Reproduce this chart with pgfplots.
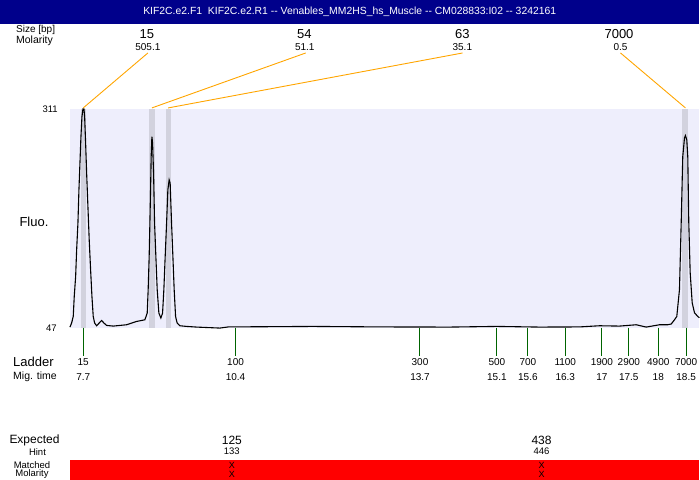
\documentclass[border=0pt]{standalone}
\usepackage{pgfplots}
\pgfplotsset{compat=1.18}
\usepackage{fontspec}
\setmainfont{Liberation Sans}
\definecolor{titlebar}{RGB}{0,0,139}
\definecolor{plotbg}{RGB}{238,238,252}
\definecolor{band}{RGB}{210,210,222}
\definecolor{leader}{RGB}{255,165,0}
\definecolor{ladgreen}{RGB}{0,100,0}
\newcommand{\fs}[1]{\fontsize{#1}{#1}\selectfont}

\begin{document}
\begin{tikzpicture}
\begin{axis}[
    x=55.87pt, y=0.82955pt,
    xmin=7.462, xmax=18.738, ymin=47, ymax=311,
    axis lines=none, clip=false, scale only axis,
]
% plot area and peak bands
\addplot[fill=plotbg, draw=none] coordinates {(7.462,47)(18.738,47)(18.738,311)(7.462,311)};
\addplot[fill=band, draw=none] coordinates {(7.659,47)(7.748,47)(7.748,311)(7.659,311)};
\addplot[fill=band, draw=none] coordinates {(8.876,47)(8.984,47)(8.984,311)(8.876,311)};
\addplot[fill=band, draw=none] coordinates {(9.180,47)(9.270,47)(9.270,311)(9.180,311)};
\addplot[fill=band, draw=none] coordinates {(18.432,47)(18.540,47)(18.540,311)(18.432,311)};

% electropherogram trace
\addplot[black, line width=1.1pt] coordinates {
(7.462,47.8) (7.492,52.7) (7.521,60.6) (7.539,84.7) (7.564,108.8) (7.582,141.0)
(7.605,173.2) (7.623,213.4) (7.641,245.5) (7.659,277.6) (7.677,301.7) (7.695,311)
(7.713,311) (7.725,301.7) (7.743,269.7) (7.761,233.5) (7.784,193.2) (7.807,153.1)
(7.832,116.9) (7.856,84.7) (7.879,60.6) (7.904,52.7) (7.940,49.4) (7.986,52.7)
(8.029,55.8) (8.071,52.7) (8.119,49.8) (8.237,49.0) (8.477,50.6) (8.656,54.6)
(8.804,56.6) (8.846,64.7) (8.863,92.8) (8.881,133.0) (8.894,173.2) (8.906,213.4)
(8.917,253.5) (8.930,277.6) (8.942,269.7) (8.960,233.5) (8.978,173.2) (9.001,133.0)
(9.025,92.8) (9.055,64.7) (9.091,58.7) (9.121,64.7) (9.144,92.8) (9.168,133.0)
(9.193,173.2) (9.216,213.4) (9.239,225.4) (9.257,221.4) (9.282,173.2) (9.306,133.0)
(9.329,92.8) (9.354,60.6) (9.382,52.7) (9.431,49.4) (9.551,48.6) (9.730,47.8)
(10.147,46.6) (10.300,48.0) (10.863,48.2) (11.811,48.6) (13.011,48.0) (14.263,47.8)
(15.105,48.6) (15.874,47.8) (16.590,48.0) (16.948,49.4) (17.306,49.0) (17.605,50.6)
(17.784,47.8) (18.022,50.6) (18.166,50.6) (18.232,51.5) (18.291,56.6) (18.332,60.6)
(18.380,92.8) (18.411,173.6) (18.439,253.5) (18.470,276.0) (18.487,278.8) (18.511,273.6)
(18.529,253.5) (18.547,173.6) (18.572,113.3) (18.608,77.1) (18.649,65.1) (18.708,60.6)
(18.738,59.1)
};

% leader lines from peak labels
\addplot[leader, line width=0.9pt] coordinates {(8.858,378.5)(7.700,312.2)};
\addplot[leader, line width=0.9pt] coordinates {(11.686,378.5)(8.930,312.2)};
\addplot[leader, line width=0.9pt] coordinates {(14.496,378.5)(9.221,312.2)};
\addplot[leader, line width=0.9pt] coordinates {(17.324,378.5)(18.487,312.2)};

% ladder ticks
\addplot[ladgreen, line width=1pt, unbounded coords=jump] coordinates {
(7.700,47)(7.700,13.2)(7.700,nan)
(10.428,47)(10.428,13.2)(10.428,nan)
(13.732,47)(13.732,13.2)(13.732,nan)
(15.110,47)(15.110,13.2)(15.110,nan)
(15.665,47)(15.665,13.2)(15.665,nan)
(16.334,47)(16.334,13.2)(16.334,nan)
(16.990,47)(16.990,13.2)(16.990,nan)
(17.473,47)(17.473,13.2)(17.473,nan)
(18.000,47)(18.000,13.2)(18.000,nan)
(18.500,47)(18.500,13.2)
};

% title bar (drawn over the clipped header label)
\node[anchor=west, font=\fs{10}, inner sep=0pt] at (axis cs:6.495,406.2) {Size [bp]};
\fill[titlebar] (axis cs:6.209,442.4) rectangle (axis cs:18.738,413.5);
\node[white, font=\fs{10.4}, inner sep=0pt] at (axis cs:12.474,427.9)
  {KIF2C.e2.F1\ \ KIF2C.e2.R1 -{}- Venables\_MM2HS\_hs\_Muscle -{}- CM028833:I02 -{}- 3242161};
\node[anchor=west, font=\fs{10.5}, inner sep=0pt] at (axis cs:6.495,393.0) {Molarity};

% peak labels
\node[font=\fs{13}, inner sep=0pt] at (axis cs:8.840,401.4) {15};
\node[font=\fs{10}, inner sep=0pt] at (axis cs:8.858,385.1) {505.1};
\node[font=\fs{13}, inner sep=0pt] at (axis cs:11.659,401.4) {54};
\node[font=\fs{10}, inner sep=0pt] at (axis cs:11.668,385.1) {51.1};
\node[font=\fs{13}, inner sep=0pt] at (axis cs:14.491,401.4) {63};
\node[font=\fs{10}, inner sep=0pt] at (axis cs:14.491,385.1) {35.1};
\node[font=\fs{13}, inner sep=0pt] at (axis cs:17.297,401.4) {7000};
\node[font=\fs{10}, inner sep=0pt] at (axis cs:17.324,385.1) {0.5};

% y labels
\node[anchor=east, font=\fs{9.5}, inner sep=0pt] at (axis cs:7.247,311) {311};
\node[anchor=east, font=\fs{9.5}, inner sep=0pt] at (axis cs:7.229,46) {47};
\node[font=\fs{13}, inner sep=0pt] at (axis cs:6.818,174.8) {Fluo.};

% ladder labels: size on first line, migration time below
\node[anchor=west, font=\fs{13}, inner sep=0pt] at (axis cs:6.442,6.0) {Ladder};
\node[anchor=west, font=\fs{10.5}, inner sep=0pt] at (axis cs:6.442,-12.1) {Mig. time};
\node[font=\fs{10}, inner sep=0pt] at (axis cs:7.700,6.0) {15};
\node[font=\fs{10}, inner sep=0pt] at (axis cs:7.700,-12.1) {7.7};
\node[font=\fs{10}, inner sep=0pt] at (axis cs:10.428,6.0) {100};
\node[font=\fs{10}, inner sep=0pt] at (axis cs:10.428,-12.1) {10.4};
\node[font=\fs{10}, inner sep=0pt] at (axis cs:13.732,6.0) {300};
\node[font=\fs{10}, inner sep=0pt] at (axis cs:13.732,-12.1) {13.7};
\node[font=\fs{10}, inner sep=0pt] at (axis cs:15.110,6.0) {500};
\node[font=\fs{10}, inner sep=0pt] at (axis cs:15.110,-12.1) {15.1};
\node[font=\fs{10}, inner sep=0pt] at (axis cs:15.665,6.0) {700};
\node[font=\fs{10}, inner sep=0pt] at (axis cs:15.665,-12.1) {15.6};
\node[font=\fs{10}, inner sep=0pt] at (axis cs:16.334,6.0) {1100};
\node[font=\fs{10}, inner sep=0pt] at (axis cs:16.334,-12.1) {16.3};
\node[font=\fs{10}, inner sep=0pt] at (axis cs:16.990,6.0) {1900};
\node[font=\fs{10}, inner sep=0pt] at (axis cs:16.990,-12.1) {17};
\node[font=\fs{10}, inner sep=0pt] at (axis cs:17.473,6.0) {2900};
\node[font=\fs{10}, inner sep=0pt] at (axis cs:17.473,-12.1) {17.5};
\node[font=\fs{10}, inner sep=0pt] at (axis cs:18.000,6.0) {4900};
\node[font=\fs{10}, inner sep=0pt] at (axis cs:18.000,-12.1) {18};
\node[font=\fs{10}, inner sep=0pt] at (axis cs:18.500,6.0) {7000};
\node[font=\fs{10}, inner sep=0pt] at (axis cs:18.500,-12.1) {18.5};

% expected / matched rows
\fill[red] (axis cs:7.462,-112.1) rectangle (axis cs:18.738,-136.2);
\node[font=\fs{12}, inner sep=0pt] at (axis cs:6.827,-89.2) {Expected};
\node[font=\fs{9.5}, inner sep=0pt] at (axis cs:6.880,-102.5) {Hint};
\node[font=\fs{9.5}, inner sep=0pt] at (axis cs:6.782,-118.2) {Matched};
\node[font=\fs{9.5}, inner sep=0pt] at (axis cs:6.782,-129.6) {Molarity};
\node[font=\fs{12}, inner sep=0pt] at (axis cs:10.362,-89.2) {125};
\node[font=\fs{9.5}, inner sep=0pt] at (axis cs:10.362,-102.5) {133};
\node[font=\fs{9}, inner sep=0pt] at (axis cs:10.362,-119.4) {X};
\node[font=\fs{9}, inner sep=0pt] at (axis cs:10.362,-129.6) {X};
\node[font=\fs{12}, inner sep=0pt] at (axis cs:15.910,-89.2) {438};
\node[font=\fs{9.5}, inner sep=0pt] at (axis cs:15.910,-102.5) {446};
\node[font=\fs{9}, inner sep=0pt] at (axis cs:15.910,-119.4) {X};
\node[font=\fs{9}, inner sep=0pt] at (axis cs:15.910,-129.6) {X};
\end{axis}
\end{tikzpicture}
\end{document}
